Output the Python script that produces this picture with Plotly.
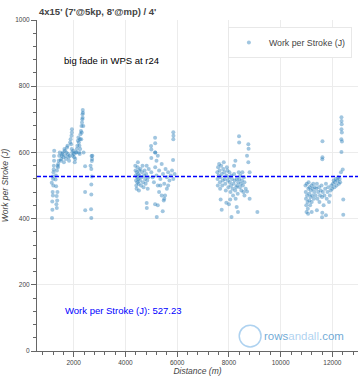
import plotly.graph_objects as go

# ---------------- data ----------------
int1_dist = [1160, 1175, 1170, 1185, 1150, 1190, 1200, 1215, 1225, 1230, 1240, 1235, 1245, 1210, 1195,
             1300, 1320, 1340, 1330, 1345, 1360, 1370, 1310, 1350, 1380, 1400, 1420, 1390, 1440, 1460,
             1500, 1520, 1540, 1560, 1580, 1600, 1620, 1640, 1660, 1680, 1700, 1720, 1740, 1760, 1780,
             1800, 1820, 1840, 1860, 1880, 1900, 1920, 1940, 1960, 1980, 2000, 2020, 2040, 2060, 2080,
             1925, 1930, 1915,
             2100, 2120, 2140, 2160, 2180, 2200, 2220, 2240, 2260, 2280, 2300, 2320, 2330, 2340, 2350,
             2355, 2345, 2310, 2290, 2250, 2230, 2210, 2370, 2380,
             2690, 2700, 2440, 2680, 2700, 2680, 2440, 2680, 2445, 2670, 2680, 2710, 2720, 2650]
int1_wps = [402, 427, 452, 480, 508, 527, 520, 540, 548, 560, 575, 589, 605, 500, 470,
            518, 498, 468, 443, 432, 455, 480, 530, 545, 560, 565, 575, 555, 590, 600,
            575, 580, 590, 595, 600, 585, 570, 610, 605, 590, 580, 600, 615, 620, 595,
            585, 575, 590, 630, 640, 625, 610, 600, 590, 605, 595, 585, 570, 580, 600,
            660, 670, 650,
            600, 610, 620, 635, 645, 630, 620, 640, 655, 665, 680, 690, 700, 715, 728,
            720, 705, 660, 640, 610, 595, 600, 680, 600,
            589, 574, 558, 550, 527, 503, 480, 473, 425, 428, 402, 580, 590, 560]

int2_dist = [4380, 4390, 4400, 4410, 4420, 4430, 4440, 4450, 4460, 4470, 4480, 4490, 4500, 4510, 4520,
             4530, 4540, 4560, 4580, 4600, 4620, 4640, 4660, 4680, 4700, 4720, 4740, 4760, 4780, 4800,
             4820, 4840, 4860, 4880, 4900,
             4820, 4825, 5145, 5210, 5440, 5480, 5530, 5250,
             4990, 5000, 5145, 5150, 5150, 5000, 5850, 5855, 5850, 5840,
             5000, 5050, 5100, 5150, 5200, 5250, 5300, 5350, 5400, 5450, 5500, 5550, 5600, 5650, 5700,
             5750, 5800, 5850, 5900, 5300, 5400, 5500, 5350, 5600, 5650, 5200, 5250, 5150]
int2_wps = [560, 545, 530, 515, 500, 490, 540, 525, 510, 555, 570, 535, 520, 505, 485,
            545, 530, 515, 550, 500, 525, 540, 560, 510, 495, 530, 545, 520, 505, 535,
            560, 515, 490, 525, 550,
            447, 432, 443, 405, 422, 455, 470, 440,
            619, 609, 644, 628, 600, 583, 661, 650, 640, 577,
            540, 525, 510, 555, 530, 500, 545, 520, 565, 535, 505, 550, 525, 540, 515,
            530, 545, 520, 535, 480, 470, 460, 500, 490, 500, 575, 590, 600]

int3_dist = [7550, 7560, 7570, 7580, 7600, 7620, 7640, 7650, 7660, 7680, 7700, 7720, 7740, 7760, 7780,
             7800, 7820, 7840, 7860, 7880, 7900, 7920, 7940, 7960, 7980, 8000, 8020, 8040, 8060, 8080,
             8100, 8120, 8140, 8160, 8180, 8200, 8220, 8240, 8260, 8280, 8300, 8320, 8340, 8360, 8380,
             8400, 8420, 8440, 8460, 8480, 8500, 8520, 8540, 8560, 8580, 8600,
             7680, 7720, 7900, 8000, 8050, 8100, 8300, 8350, 8700, 8800, 9100, 8600, 8650,
             8390, 8395, 8750, 8760, 8700, 8750, 8800, 8200, 8250]
int3_wps = [540, 520, 500, 555, 530, 565, 545, 510, 490, 525, 560, 535, 500, 515, 550,
            570, 540, 520, 505, 485, 530, 555, 545, 515, 495, 525, 540, 510, 480, 500,
            530, 520, 490, 470, 505, 535, 515, 485, 460, 495, 520, 500, 475, 510, 540,
            520, 495, 530, 505, 485, 515, 540, 500, 480, 525, 510,
            458, 427, 448, 443, 458, 405, 435, 420, 482, 460, 420, 470, 490,
            649, 630, 625, 611, 590, 570, 540, 560, 575]

int4_dist = [10960, 10970, 10980, 10990, 11000, 11010, 11020, 11040, 11050, 11060, 11070, 11080, 11100,
             11110, 11120, 11140, 11150, 11170, 11190, 11200, 11220, 11240, 11260, 11280, 11300, 11320,
             11350, 11380, 11400, 11420, 11450, 11480, 11500, 11520, 11550, 11580, 11600, 11630, 11660,
             11690, 11720, 11750, 11780, 11810, 11840, 11870, 11900, 11930, 11960,
             11990, 12020, 12050, 12080, 12100, 12130, 12160, 12190, 12220, 12250, 12280, 12300,
             12350, 12355, 12360, 12350, 12365, 12345, 12370, 12350, 12400, 12330,
             11616, 11610, 11615,
             11600, 11610, 11750, 12420, 12420, 11400, 11200]
int4_wps = [500, 480, 460, 440, 420, 505, 470, 450, 430, 415, 490, 510, 475,
            455, 495, 440, 465, 485, 500, 450, 470, 490, 505, 460, 480, 495,
            470, 490, 505, 460, 480, 495, 450, 470, 485, 500, 465, 480, 440,
            470, 490, 505, 460, 480, 495, 450, 470, 485, 500,
            490, 505, 515, 495, 510, 520, 500, 515, 525, 505, 520, 510,
            706, 695, 685, 670, 660, 640, 633, 601, 548, 540,
            634, 579, 585,
            404, 418, 410, 412, 458, 425, 420]

distance = int1_dist + int2_dist + int3_dist + int4_dist
wps = int1_wps + int2_wps + int3_wps + int4_wps
avg_wps = 527.23

title_text = "4x15' (7'@5kp, 8'@mp) / 4'"
note_text = "big fade in WPS at r24"
series_name = "Work per Stroke (J)"
x_ticks = [2000, 4000, 6000, 8000, 10000, 12000]
y_ticks = [0, 200, 400, 600, 800, 1000]

FONT = "Liberation Sans, Arial, Helvetica, sans-serif"

fig = go.Figure()
fig.add_trace(go.Scatter(
    x=distance, y=wps, mode="markers", name=series_name,
    marker=dict(size=4, color="rgba(31,119,180,0.42)", line=dict(width=0)),
    showlegend=True,
))

fig.add_shape(type="line", xref="paper", x0=0, x1=1, yref="y", y0=avg_wps, y1=avg_wps,
              line=dict(color="#0000ff", width=1.6, dash="4px,2px"))

fig.add_annotation(xref="paper", yref="paper", x=0, y=1.025, xanchor="left", yanchor="middle",
                   text="<b>" + title_text + "</b>", showarrow=False,
                   font=dict(family=FONT, size=9.5, color="#444444"))
fig.add_annotation(xref="x", yref="y", x=1547, y=879, xanchor="left", yanchor="middle",
                   text=note_text, showarrow=False,
                   font=dict(family=FONT, size=9.5, color="#000000"))
fig.add_annotation(xref="x", yref="y", x=1586, y=121, xanchor="left", yanchor="middle",
                   text=f"{series_name}: {avg_wps:.2f}", showarrow=False,
                   font=dict(family=FONT, size=9.5, color="#0000ff"))

# watermark
fig.add_annotation(xref="paper", yref="paper", x=0.70, y=0.045, xanchor="left", yanchor="middle",
                   text="<span style='color:rgba(60,140,200,0.75)'>rows</span>"
                        "<span style='color:rgba(120,180,230,0.6)'>andall</span>"
                        "<span style='color:rgba(60,140,200,0.75)'>.com</span>",
                   showarrow=False, font=dict(family=FONT, size=11.5))
fig.add_shape(type="circle", xref="paper", yref="paper",
              x0=0.630, x1=0.698, y0=0.012, y1=0.078,
              line=dict(color="rgba(120,180,230,0.6)", width=1.5))

fig.update_layout(
    width=361, height=380,
    margin=dict(l=37, r=3, t=20, b=29, autoexpand=False),
    paper_bgcolor="white", plot_bgcolor="white",
    font=dict(family=FONT, color="#444444"),
    legend=dict(x=0.981, y=0.979, xanchor="right", yanchor="top",
                bgcolor="white", bordercolor="#e8e8e8", borderwidth=1,
                font=dict(family=FONT, size=8.8, color="#444444"),
                itemwidth=30),
    showlegend=True,
)
fig.update_xaxes(
    range=[580, 12990], tickvals=x_ticks, ticktext=[str(v) for v in x_ticks],
    automargin=False,
    showgrid=True, gridcolor="#ececec", gridwidth=1, zeroline=False,
    showline=True, linecolor="#666666", linewidth=1,
    ticks="outside", ticklen=5, tickcolor="#666666",
    minor=dict(dtick=400, ticks="outside", ticklen=3, tickcolor="#666666", showgrid=False),
    tickfont=dict(family=FONT, size=6.5, color="#444444"),
    title=dict(text="<i>Distance (m)</i>", font=dict(family=FONT, size=8.5, color="#444444"), standoff=3),
)
fig.update_yaxes(
    range=[0, 1000], tickvals=y_ticks, ticktext=[str(v) for v in y_ticks],
    automargin=False,
    showgrid=True, gridcolor="#ececec", gridwidth=1, zeroline=False,
    showline=True, linecolor="#666666", linewidth=1,
    ticks="outside", ticklen=5, tickcolor="#666666",
    minor=dict(dtick=40, ticks="outside", ticklen=3, tickcolor="#666666", showgrid=False),
    tickfont=dict(family=FONT, size=6.5, color="#444444"),
    title=dict(text="<i>Work per Stroke (J)</i>", font=dict(family=FONT, size=8.5, color="#444444"), standoff=6),
)

fig.write_html("out.html", config={"displayModeBar": False},
               post_script="document.body.style.margin='0px';")
